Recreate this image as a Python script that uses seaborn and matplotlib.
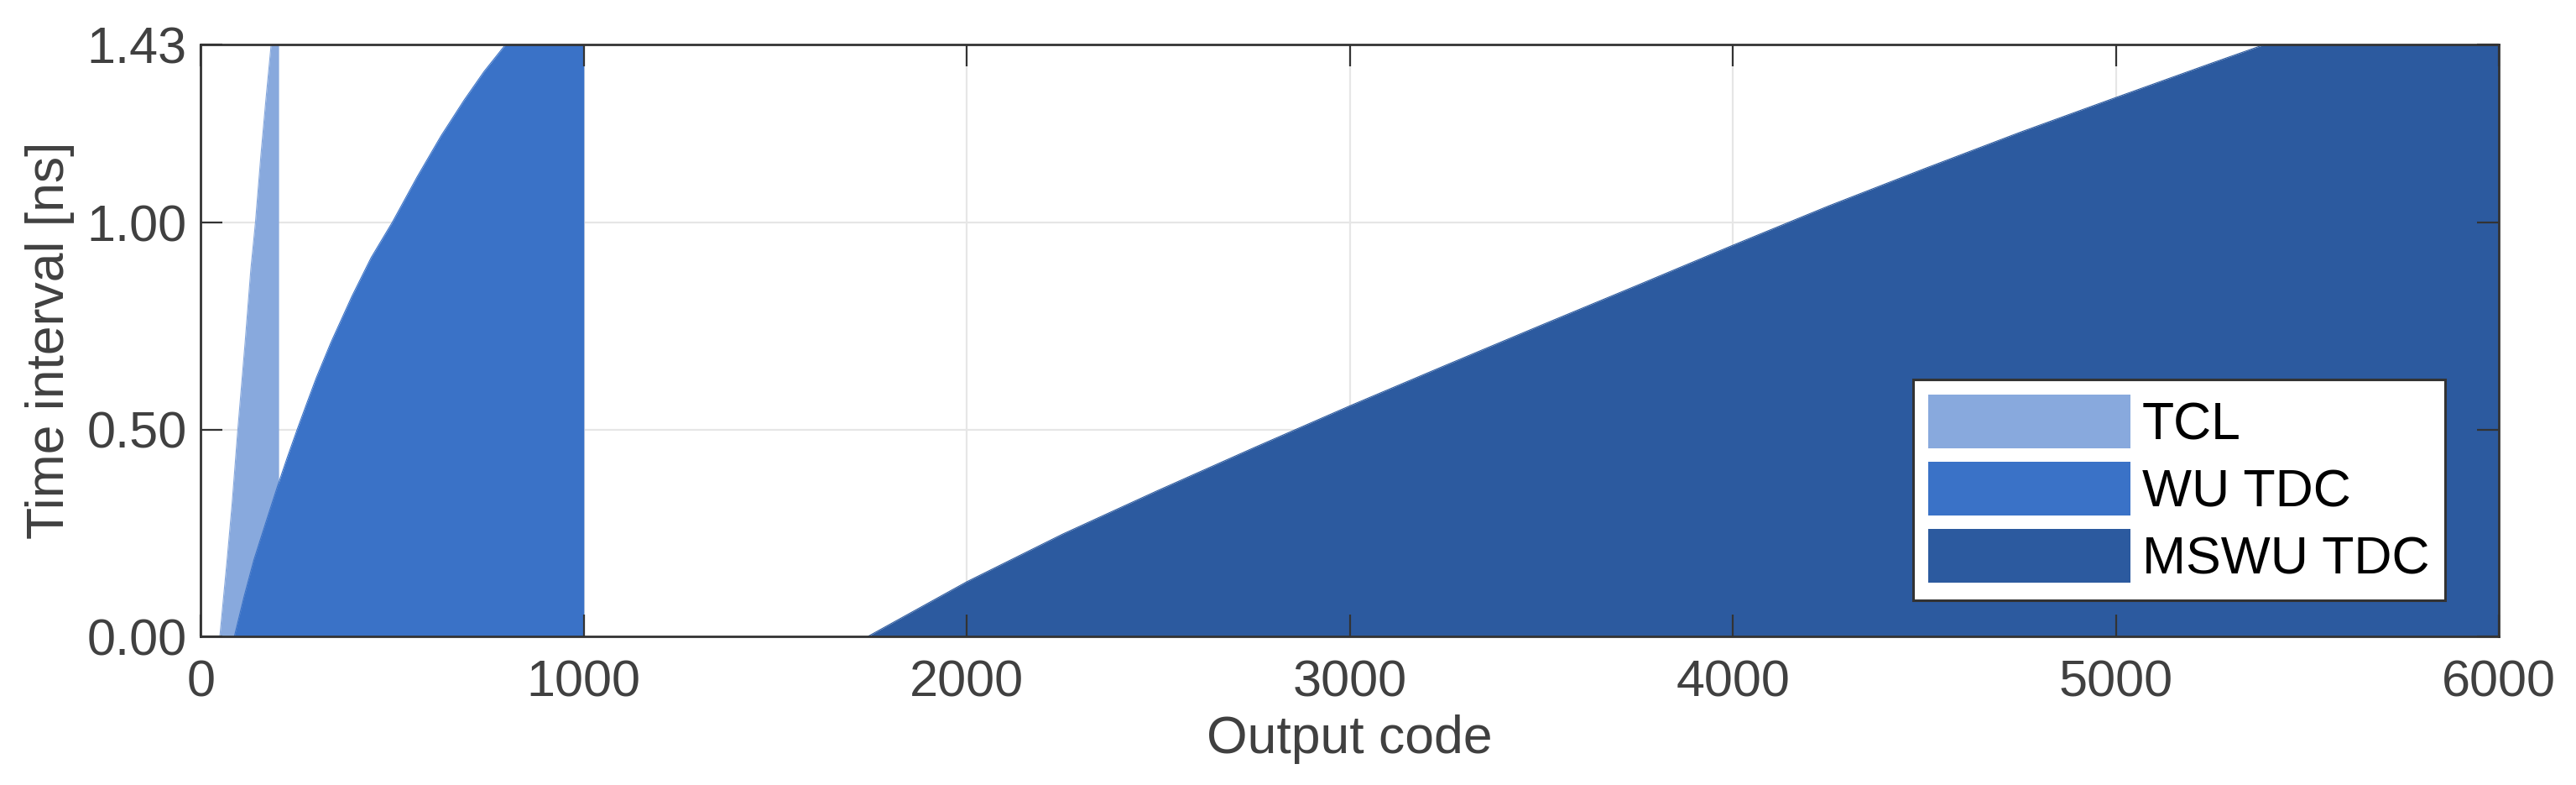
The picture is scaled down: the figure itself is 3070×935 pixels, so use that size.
import numpy as np
import pandas as pd
import seaborn as sns
import matplotlib.pyplot as plt

# values
tcl_code = [50, 69, 82, 97, 116, 131, 143, 157, 170, 184, 203, 203]
tcl_ns = [0.0, 0.185, 0.32, 0.50, 0.71, 0.888, 1.0, 1.16, 1.294, 1.43, 1.43, 0.0]

wu_code = [88, 113, 139, 170, 200, 226, 252, 277, 302, 340, 395, 445, 500, 565, 628,
           688, 740, 796, 1000, 1000]
wu_ns = [0.0, 0.095, 0.185, 0.275, 0.361, 0.432, 0.50, 0.563, 0.625, 0.71, 0.822, 0.915,
         1.0, 1.11, 1.21, 1.296, 1.365, 1.43, 1.43, 0.0]

mswu_code = [1742, 2000, 2250, 2500, 2750, 3000, 3250, 3500, 3750, 4000, 4250, 4500,
             4750, 5000, 5250, 5388, 6000]
mswu_ns = [0.0, 0.132, 0.247, 0.353, 0.456, 0.557, 0.655, 0.752, 0.848, 0.945, 1.040,
           1.130, 1.218, 1.302, 1.385, 1.43, 1.43]

series = ["TCL", "WU TDC", "MSWU TDC"]
colors = ["#88A9DD", "#3A72C7", "#2C5A9F"]
x_ticks = [0, 1000, 2000, 3000, 4000, 5000, 6000]
y_ticks = [0.0, 0.5, 1.0, 1.43]
y_labels = ["0.00", "0.50", "1.00", "1.43"]

df = pd.concat([
    pd.DataFrame({"code": tcl_code, "ns": tcl_ns, "series": series[0]}),
    pd.DataFrame({"code": wu_code, "ns": wu_ns, "series": series[1]}),
    pd.DataFrame({"code": mswu_code, "ns": mswu_ns, "series": series[2]}),
], ignore_index=True)

sns.set_theme(style="whitegrid")
plt.rcParams['font.family'] = ['Liberation Sans', 'DejaVu Sans']
txt = "#404040"

fig = plt.figure(figsize=(30.7, 9.35), dpi=100)
pos = [0.0779, 0.1893, 0.8922, 0.7540]
ax = fig.add_axes(pos)
ax.set_facecolor("white")
ax.set_axisbelow(True)
ax.grid(True, color="#e6e6e6", linewidth=1.6)

handles = []
for name, col in zip(series, colors):
    d = df[df["series"] == name]
    h = ax.fill_between(d["code"], 0, d["ns"], color=col, linewidth=0, zorder=1, label=name)
    sns.lineplot(data=d, x="code", y="ns", estimator=None, sort=False, color=col,
                 linewidth=0.8, ax=ax, zorder=1, legend=False)
    handles.append(h)

ax.set_xlim(0, 6000)
ax.set_ylim(0, 1.43)
ax.set_xticks(x_ticks)
ax.set_yticks(y_ticks)
ax.set_yticklabels(y_labels)
ax.tick_params(axis="both", length=0, labelsize=44, labelcolor=txt)
ax.tick_params(axis="y", pad=12)
ax.tick_params(axis="x", pad=20)
for s in ax.spines.values():
    s.set_visible(False)
ax.set_xlabel("Output code", fontsize=45, color=txt, labelpad=6)
ax.set_ylabel("Time interval [ns]", fontsize=45, color=txt, labelpad=10)

# overlay for box and inward ticks drawn above the areas
ov = fig.add_axes(pos, sharex=ax, sharey=ax)
ov.patch.set_alpha(0)
ov.grid(False)
ov.tick_params(axis="both", direction="in", length=19, width=1.6, color="#333333",
               top=True, right=True, bottom=True, left=True,
               labelbottom=False, labelleft=False)
for s in ov.spines.values():
    s.set_visible(True)
    s.set_color("#333333")
    s.set_linewidth(2.0)
ov.set_xlabel("")
ov.set_ylabel("")

leg = ov.legend(handles=handles, labels=series, loc="lower right",
                bbox_to_anchor=(0.9766, 0.061), fontsize=45, frameon=True,
                fancybox=False, handlelength=3.85, handleheight=1.2,
                labelspacing=0.22, borderpad=0.3, handletextpad=0.22,
                borderaxespad=0)
for t in leg.get_texts():
    t.set_color("black")
leg.get_frame().set_edgecolor("#333333")
leg.get_frame().set_linewidth(2.2)
leg.get_frame().set_facecolor("white")
leg.get_frame().set_alpha(1)

fig.savefig("out.png", dpi=100)
